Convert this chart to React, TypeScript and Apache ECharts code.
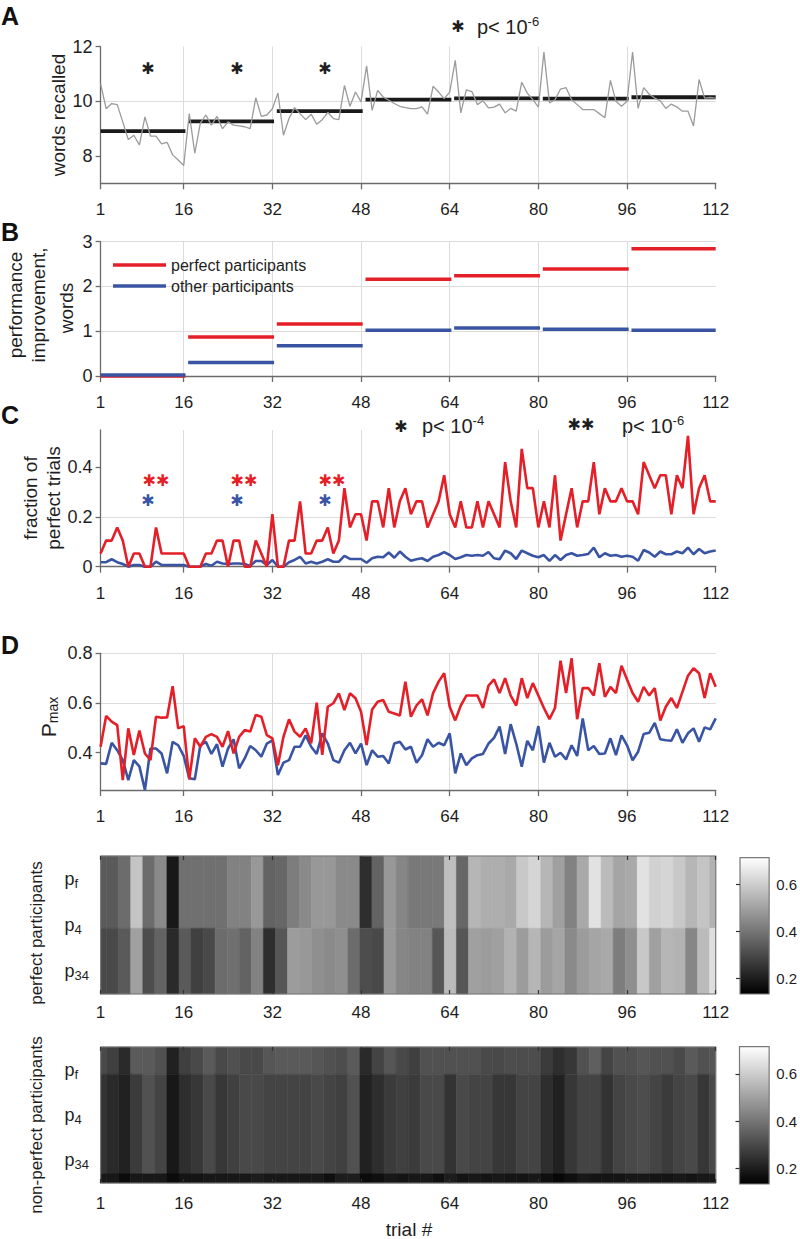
import React, { useEffect, useRef } from 'react';
import * as echarts from 'echarts';

const FONT = '"Liberation Sans", Arial, Helvetica, sans-serif';
const STAR_FONT = '"DejaVu Sans", "Liberation Sans", sans-serif';
const RED = '#e41f27';
const BLUE = '#3a54a4';
const GRAY_LINE = '#9b9b9b';
const GRID_COLOR = '#dcdcdc';
const AXIS_COLOR = '#6b6b6b';
const TEXT_COLOR = '#1e1e1e';

// ---- axes / structure ----
const TRIAL_TICKS = [1, 16, 32, 48, 64, 80, 96, 112];
const BLOCK_STARTS = [1, 17, 33, 49, 65, 81, 97];
const BLOCK_ENDS = [16, 32, 48, 64, 80, 96, 112];
const A_TICKS = [8, 10, 12];
const B_TICKS = [0, 1, 2, 3];
const C_TICKS = [0, 0.2, 0.4];
const D_TICKS = [0.4, 0.6, 0.8];
const CB_TICKS = [0.2, 0.4, 0.6];
const CB_MIN = 0.135;
const CB_MAX = 0.715;
const HM_ROW_LABELS = ['f', '4', '34'];
const HM_COLS = 52;
const HM1_BANDS = [[0.5, 2.07], [2.07, 3.5]];
const HM2_BANDS = [[0.5, 1.1], [1.1, 3.3], [3.3, 3.5]];

// ---- A: words recalled per trial, block means ----
const wordsRecalled = [
  10.64, 9.73, 9.92, 9.88, 9.25, 8.6, 8.76, 8.4, 9.43, 8.73, 8.73, 8.44, 8.5, 8.04, 7.85, 7.65,
  9.55, 8.1, 9.2, 9.5, 9.13, 9.45, 9.0, 9.25, 9.13, 9.1, 9.07, 9.0, 10.13, 9.45, 9.5, 9.73,
  10.3, 8.76, 9.37, 9.77, 9.55, 9.33, 9.53, 9.16, 9.33, 9.6, 9.37, 9.33, 10.58, 9.82, 10.34, 9.98,
  11.3, 9.67, 10.4, 10.16, 10.04, 9.92, 9.82, 9.77, 9.73, 9.73, 9.8, 9.53, 10.55, 10.34, 10.1, 10.34,
  11.5, 9.58, 10.42, 10.36, 9.88, 10.02, 9.76, 9.79, 9.9, 9.58, 9.74, 9.64, 10.7, 10.3, 10.06, 9.79,
  11.8, 9.94, 10.06, 10.45, 10.5, 10.06, 9.88, 9.7, 9.7, 9.7, 9.55, 9.4, 10.77, 10.0, 9.82, 10.0,
  11.8, 9.74, 10.5, 10.26, 10.12, 10.02, 9.74, 9.9, 9.79, 9.64, 9.64, 9.1, 10.8, 10.12, 10.14, 10.12,
];
const wordsBlockMean = [8.91, 9.27, 9.64, 10.06, 10.11, 10.1, 10.15];

// ---- B: performance improvement per block ----
const improvePerfect = [0, 0.87, 1.16, 2.16, 2.24, 2.39, 2.84];
const improveOther = [0.02, 0.3, 0.675, 1.02, 1.075, 1.046, 1.02];

// ---- C: fraction of perfect trials ----
const fracPerfect = [
  0.053, 0.105, 0.105, 0.158, 0.105, 0, 0.053, 0.053, 0, 0, 0.158, 0.053, 0.053, 0.053, 0.053, 0.053,
  0, 0, 0, 0.053, 0.053, 0.105, 0.105, 0, 0.105, 0.105, 0, 0, 0.105, 0.053, 0, 0.211,
  0, 0, 0.105, 0.105, 0.263, 0.053, 0.053, 0.105, 0.105, 0.158, 0.053, 0.105, 0.316, 0.158, 0.211, 0.211,
  0.105, 0.263, 0.263, 0.158, 0.316, 0.158, 0.263, 0.316, 0.211, 0.263, 0.263, 0.158, 0.211, 0.263, 0.368, 0.211,
  0.158, 0.263, 0.158, 0.158, 0.263, 0.158, 0.263, 0.211, 0.158, 0.421, 0.263, 0.158, 0.474, 0.316, 0.316, 0.158,
  0.263, 0.158, 0.368, 0.105, 0.211, 0.316, 0.158, 0.263, 0.263, 0.421, 0.211, 0.316, 0.263, 0.263, 0.316, 0.263,
  0.263, 0.211, 0.421, 0.368, 0.316, 0.368, 0.368, 0.211, 0.368, 0.316, 0.526, 0.211, 0.316, 0.368, 0.263, 0.263,
];
const fracOther = [
  0.018, 0.018, 0.03, 0.018, 0.011, 0, 0.007, 0.007, 0, 0, 0.02, 0.007, 0.007, 0.007, 0.007, 0.007,
  0, 0, 0, 0.011, 0.004, 0.02, 0.013, 0.011, 0.013, 0.013, 0.011, 0.003, 0.023, 0.023, 0.007, 0.027,
  0, 0, 0.018, 0.027, 0.04, 0.013, 0.02, 0.013, 0.02, 0.03, 0.02, 0.02, 0.044, 0.031, 0.031, 0.031,
  0.016, 0.034, 0.04, 0.038, 0.057, 0.036, 0.061, 0.04, 0.024, 0.03, 0.034, 0.023, 0.04, 0.047, 0.059, 0.047,
  0.031, 0.038, 0.047, 0.044, 0.047, 0.044, 0.059, 0.034, 0.03, 0.065, 0.054, 0.031, 0.065, 0.054, 0.044, 0.038,
  0.047, 0.023, 0.047, 0.027, 0.047, 0.054, 0.044, 0.047, 0.051, 0.077, 0.038, 0.054, 0.044, 0.047, 0.04, 0.044,
  0.04, 0.024, 0.067, 0.057, 0.04, 0.061, 0.05, 0.05, 0.061, 0.054, 0.077, 0.05, 0.071, 0.054, 0.061, 0.065,
];

// ---- D: Pmax ----
const pmaxPerfect = [
  0.424, 0.548, 0.525, 0.511, 0.29, 0.498, 0.391, 0.489, 0.397, 0.37, 0.545, 0.541, 0.542, 0.668, 0.498, 0.507,
  0.293, 0.458, 0.424, 0.464, 0.475, 0.464, 0.424, 0.487, 0.397, 0.464, 0.491, 0.485, 0.552, 0.545, 0.471, 0.458,
  0.35, 0.464, 0.534, 0.485, 0.464, 0.498, 0.438, 0.601, 0.391, 0.585, 0.599, 0.639, 0.572, 0.639, 0.619, 0.565,
  0.431, 0.574, 0.605, 0.612, 0.565, 0.558, 0.55, 0.686, 0.545, 0.59, 0.615, 0.55, 0.64, 0.686, 0.72, 0.585,
  0.53, 0.59, 0.63, 0.63, 0.63, 0.58, 0.67, 0.695, 0.64, 0.7, 0.63, 0.59, 0.7, 0.62, 0.68, 0.63,
  0.58, 0.535, 0.58, 0.77, 0.64, 0.78, 0.535, 0.66, 0.66, 0.63, 0.76, 0.625, 0.665, 0.64, 0.75, 0.695,
  0.64, 0.605, 0.665, 0.63, 0.66, 0.53, 0.585, 0.62, 0.58, 0.645, 0.71, 0.74, 0.72, 0.62, 0.72, 0.665,
];
const pmaxOther = [
  0.357, 0.355, 0.44, 0.41, 0.37, 0.29, 0.37, 0.345, 0.25, 0.417, 0.417, 0.397, 0.317, 0.444, 0.43, 0.387,
  0.297, 0.293, 0.43, 0.444, 0.395, 0.434, 0.344, 0.417, 0.454, 0.337, 0.377, 0.427, 0.41, 0.384, 0.437, 0.45,
  0.31, 0.36, 0.37, 0.424, 0.424, 0.47, 0.424, 0.395, 0.478, 0.437, 0.37, 0.36, 0.41, 0.44, 0.397, 0.437,
  0.35, 0.41, 0.384, 0.387, 0.357, 0.437, 0.444, 0.413, 0.424, 0.36, 0.39, 0.454, 0.424, 0.44, 0.43, 0.478,
  0.317, 0.397, 0.35, 0.377, 0.39, 0.395, 0.437, 0.46, 0.505, 0.395, 0.515, 0.437, 0.344, 0.448, 0.41, 0.507,
  0.36, 0.44, 0.384, 0.4, 0.373, 0.43, 0.387, 0.538, 0.41, 0.427, 0.395, 0.397, 0.458, 0.39, 0.47, 0.43,
  0.37, 0.404, 0.475, 0.48, 0.52, 0.454, 0.45, 0.448, 0.494, 0.44, 0.478, 0.498, 0.444, 0.502, 0.494, 0.538,
];

// ---- heatmaps (52 columns over trials 1..112) ----
const hmPerfectTop = [
  0.34, 0.34, 0.38, 0.58, 0.38, 0.45, 0.19, 0.39, 0.39, 0.39, 0.39, 0.43, 0.43, 0.48, 0.36, 0.37, 0.42, 0.45, 0.48, 0.48, 0.45, 0.45, 0.24, 0.36, 0.48,
  0.44, 0.41, 0.41, 0.41, 0.57, 0.37, 0.55, 0.53, 0.53, 0.52, 0.59, 0.62, 0.55, 0.5, 0.43, 0.52, 0.65, 0.56, 0.51, 0.52, 0.65, 0.61, 0.62, 0.59, 0.55, 0.58, 0.54,
];
const hmPerfectBottom = [
  0.3, 0.3, 0.34, 0.5, 0.31, 0.36, 0.23, 0.34, 0.28, 0.3, 0.38, 0.39, 0.36, 0.43, 0.24, 0.33, 0.49, 0.48, 0.46, 0.45, 0.46, 0.38, 0.31, 0.3, 0.48,
  0.44, 0.43, 0.43, 0.33, 0.56, 0.33, 0.5, 0.49, 0.5, 0.54, 0.49, 0.55, 0.49, 0.51, 0.45, 0.49, 0.51, 0.52, 0.42, 0.46, 0.59, 0.5, 0.55, 0.54, 0.44, 0.56, 0.64,
];
const hmOtherTop = [
  0.3, 0.28, 0.23, 0.34, 0.34, 0.32, 0.21, 0.28, 0.3, 0.34, 0.3, 0.32, 0.3, 0.3, 0.33, 0.34, 0.34, 0.34, 0.33, 0.32, 0.31, 0.34, 0.23, 0.29, 0.33,
  0.3, 0.28, 0.32, 0.32, 0.32, 0.32, 0.32, 0.3, 0.3, 0.31, 0.31, 0.31, 0.27, 0.24, 0.26, 0.32, 0.35, 0.29, 0.32, 0.32, 0.33, 0.32, 0.32, 0.3, 0.34, 0.32, 0.33,
];
const hmOtherMid = [
  0.25, 0.23, 0.21, 0.27, 0.32, 0.29, 0.19, 0.24, 0.26, 0.3, 0.26, 0.28, 0.3, 0.3, 0.29, 0.29, 0.29, 0.29, 0.3, 0.29, 0.28, 0.32, 0.21, 0.24, 0.27,
  0.28, 0.27, 0.3, 0.3, 0.25, 0.3, 0.29, 0.29, 0.26, 0.26, 0.29, 0.29, 0.24, 0.21, 0.26, 0.29, 0.29, 0.25, 0.29, 0.3, 0.31, 0.29, 0.27, 0.29, 0.3, 0.26, 0.3,
];
const hmOtherBottom = [
  0.19, 0.19, 0.16, 0.19, 0.19, 0.19, 0.16, 0.18, 0.18, 0.19, 0.19, 0.19, 0.19, 0.2, 0.19, 0.19, 0.19, 0.19, 0.19, 0.17, 0.2, 0.2, 0.16, 0.17, 0.19,
  0.18, 0.19, 0.19, 0.17, 0.2, 0.18, 0.19, 0.18, 0.19, 0.18, 0.18, 0.19, 0.17, 0.15, 0.17, 0.19, 0.18, 0.18, 0.18, 0.19, 0.19, 0.18, 0.18, 0.19, 0.18, 0.19, 0.19,
];

// ---------- helpers ----------
const trialSeries = (vals: number[]) => vals.map((v, i) => [i + 1, v]);
const blockSegs = (vals: number[]) =>
  vals.map((v, i) => [Math.max(1, BLOCK_STARTS[i] - 0.2), Math.min(112, BLOCK_ENDS[i] + 0.3), v]);
const colWidth = 111 / (HM_COLS - 1);
const hmCells = (bands: number[][], rows: number[][]) => {
  const out: number[][] = [];
  rows.forEach((row, b) => {
    row.forEach((v, k) => out.push([1 + k * colWidth, bands[b][0], bands[b][1], v]));
  });
  return out;
};

const axisLine = { show: true, lineStyle: { color: AXIS_COLOR, width: 1.3 } };
const labelBase = { fontSize: 17, color: TEXT_COLOR, fontFamily: FONT };

function xMain(gridIndex: number) {
  return {
    type: 'value', gridIndex, min: 1, max: 112,
    axisLine,
    axisTick: { show: true, customValues: TRIAL_TICKS, length: 6, lineStyle: { color: AXIS_COLOR, width: 1.3 } },
    axisLabel: { ...labelBase, customValues: TRIAL_TICKS, margin: 18 },
    splitLine: { show: true, showMinLine: false, showMaxLine: false, lineStyle: { color: GRID_COLOR, width: 1 } },
  };
}
function yMain(gridIndex: number, min: number, max: number, ticks: number[], showMax: boolean) {
  return {
    type: 'value', gridIndex, min, max,
    axisLine,
    axisTick: { show: true, customValues: ticks, length: 5, lineStyle: { color: AXIS_COLOR, width: 1.3 } },
    axisLabel: { ...labelBase, fontSize: 18, customValues: ticks, margin: 8 },
    splitLine: { show: true, showMinLine: false, showMaxLine: showMax, lineStyle: { color: GRID_COLOR, width: 1 } },
  };
}
function xHeat(gridIndex: number, top: boolean, margin: number) {
  return {
    type: 'value', gridIndex, min: 1, max: 112, position: top ? 'top' : 'bottom', z: 6,
    axisLine: { show: false },
    axisTick: { show: true, inside: true, customValues: TRIAL_TICKS, length: 4, lineStyle: { color: '#333', width: 1.2 } },
    axisLabel: top ? { show: false } : { ...labelBase, customValues: TRIAL_TICKS, margin },
    splitLine: { show: false },
  };
}
const rowRich = {
  p: { fontSize: 18, fontFamily: FONT, color: TEXT_COLOR, lineHeight: 22, verticalAlign: 'middle' },
  s: { fontSize: 13, fontFamily: FONT, color: TEXT_COLOR, lineHeight: 12, verticalAlign: 'bottom' },
};
function yHeat(gridIndex: number) {
  return {
    type: 'value', gridIndex, min: 0.5, max: 3.5, inverse: true,
    axisLine: { show: false }, axisTick: { show: false }, splitLine: { show: false },
    axisLabel: {
      customValues: [1, 2, 3], align: 'left', margin: 36,
      formatter: (v: number) => `{p|p}{s|${HM_ROW_LABELS[Math.round(v) - 1]}}`,
      rich: rowRich,
    },
  };
}
function yBar(gridIndex: number) {
  return {
    type: 'value', gridIndex, min: CB_MIN, max: CB_MAX, position: 'right', z: 6,
    axisLine: { show: false },
    axisTick: { show: true, inside: true, customValues: CB_TICKS, length: 4, lineStyle: { color: '#333', width: 1.2 } },
    axisLabel: { ...labelBase, fontSize: 15, customValues: CB_TICKS, margin: 7 },
    splitLine: { show: false },
  };
}

const segRender = (color: string, width: number) => (params: any, api: any) => {
  const a = api.coord([api.value(0), api.value(2)]);
  const b = api.coord([api.value(1), api.value(2)]);
  return { type: 'line', shape: { x1: a[0], y1: a[1], x2: b[0], y2: b[1] }, style: { stroke: color, lineWidth: width } };
};
const cellRender = (params: any, api: any) => {
  const x = api.value(0);
  const p0 = api.coord([x - colWidth / 2, api.value(1)]);
  const p1 = api.coord([x + colWidth / 2, api.value(2)]);
  const cs = params.coordSys;
  const shape = echarts.graphic.clipRectByRect(
    { x: p0[0], y: Math.min(p0[1], p1[1]), width: p1[0] - p0[0], height: Math.abs(p1[1] - p0[1]) },
    { x: cs.x, y: cs.y, width: cs.width, height: cs.height }
  );
  if (!shape) return null;
  const c = api.visual('color');
  return { type: 'rect', shape, style: { fill: c, stroke: c, lineWidth: 0.6 } };
};
const frameRender = (params: any) => {
  const cs = params.coordSys;
  return { type: 'rect', shape: { x: cs.x, y: cs.y, width: cs.width, height: cs.height }, style: { fill: 'none', stroke: '#7a7a7a', lineWidth: 1.2 } };
};
const barRender = (params: any, api: any) => {
  const p0 = api.coord([0, api.value(2)]);
  const p1 = api.coord([1, api.value(1)]);
  return {
    type: 'rect',
    shape: { x: p0[0], y: p0[1], width: p1[0] - p0[0], height: p1[1] - p0[1] },
    style: {
      fill: new echarts.graphic.LinearGradient(0, 0, 0, 1, [{ offset: 0, color: '#ffffff' }, { offset: 1, color: '#000000' }]),
      stroke: '#7a7a7a', lineWidth: 1.2,
    },
  };
};

// graphic helpers
const txt = (x: number, y: number, text: string, style: any = {}, extra: any = {}) => ({
  type: 'text', x, y, silent: true, ...extra,
  style: { text, fontFamily: FONT, fill: TEXT_COLOR, fontSize: 18, align: 'center', verticalAlign: 'middle', ...style },
});
const vtxt = (x: number, y: number, text: string, style: any = {}) => txt(x, y, text, style, { rotation: Math.PI / 2 });
const STAR = '\u2731';
const STAR_SIZE = 16;
const star = (x: number, y: number, n: number, color: string) =>
  txt(x, y, STAR.repeat(n), { fontSize: STAR_SIZE, fill: color, fontFamily: STAR_FONT, letterSpacing: 1 });
const pText = (x: number, y: number, exp: string) =>
  txt(x, y, `{a|p< 10}{s|${exp}}`, {
    align: 'left',
    rich: {
      a: { fontSize: 20, lineHeight: 24, fontFamily: FONT, fill: TEXT_COLOR, verticalAlign: 'middle' },
      s: { fontSize: 13, lineHeight: 10, fontFamily: FONT, fill: TEXT_COLOR, verticalAlign: 'top' },
    },
  });
const letter = (y: number, t: string) => txt(1, y, t, { fontSize: 25, fontWeight: 'bold', align: 'left', fill: '#111' });

function buildOption(): any {
  const L = 100.6, W = 615.1;
  return {
    animation: false,
    backgroundColor: '#ffffff',
    grid: [
      { left: L, width: W, top: 46.7, height: 136.6 },
      { left: L, width: W, top: 241.7, height: 134.3 },
      { left: L, width: W, top: 430, height: 136.7 },
      { left: L, width: W, top: 653.3, height: 136.7 },
      { left: L, width: W, top: 856, height: 138 },
      { left: 740, width: 31.7, top: 857.7, height: 136.3 },
      { left: L, width: W, top: 1047, height: 136 },
      { left: 739.5, width: 32.5, top: 1046.7, height: 137.3 },
    ],
    xAxis: [
      xMain(0), xMain(1), xMain(2), xMain(3),
      xHeat(4, false, 10), xHeat(4, true, 0),
      { type: 'value', gridIndex: 5, min: 0, max: 1, show: false },
      xHeat(6, false, 12), xHeat(6, true, 0),
      { type: 'value', gridIndex: 7, min: 0, max: 1, show: false },
    ],
    yAxis: [
      yMain(0, 7, 12, A_TICKS, false),
      yMain(1, 0, 3, B_TICKS, true),
      yMain(2, 0, 0.55, C_TICKS, false),
      yMain(3, 0.25, 0.8, D_TICKS, true),
      yHeat(4),
      yBar(5),
      yHeat(6),
      yBar(7),
    ],
    visualMap: {
      show: false, type: 'continuous', min: CB_MIN, max: CB_MAX, dimension: 3, seriesIndex: [8, 11],
      inRange: { color: ['#000000', '#ffffff'] },
    },
    legend: {
      data: ['perfect participants', 'other participants'],
      orient: 'vertical', left: 108, top: 252, icon: 'rect', itemWidth: 53, itemHeight: 3.5, itemGap: 5,
      selectedMode: false,
      textStyle: { fontSize: 16, color: TEXT_COLOR, fontFamily: FONT },
    },
    series: [
      { type: 'line', name: 'words', xAxisIndex: 0, yAxisIndex: 0, data: trialSeries(wordsRecalled), symbol: 'none', lineStyle: { color: GRAY_LINE, width: 1.3 }, itemStyle: { color: GRAY_LINE } },
      { type: 'custom', name: 'block mean', xAxisIndex: 0, yAxisIndex: 0, data: blockSegs(wordsBlockMean), encode: { x: [0, 1], y: 2 }, renderItem: segRender('#1a1a1a', 3.8), z: 3 },
      { type: 'custom', name: 'perfect participants', xAxisIndex: 1, yAxisIndex: 1, data: blockSegs(improvePerfect), encode: { x: [0, 1], y: 2 }, renderItem: segRender(RED, 3.5), itemStyle: { color: RED } },
      { type: 'custom', name: 'other participants', xAxisIndex: 1, yAxisIndex: 1, data: blockSegs(improveOther), encode: { x: [0, 1], y: 2 }, renderItem: segRender(BLUE, 3.5), itemStyle: { color: BLUE } },
      { type: 'line', name: 'frac other', xAxisIndex: 2, yAxisIndex: 2, data: trialSeries(fracOther), symbol: 'none', lineStyle: { color: BLUE, width: 2.6 }, itemStyle: { color: BLUE } },
      { type: 'line', name: 'frac perfect', xAxisIndex: 2, yAxisIndex: 2, data: trialSeries(fracPerfect), symbol: 'none', lineStyle: { color: RED, width: 2.6 }, itemStyle: { color: RED } },
      { type: 'line', name: 'pmax other', xAxisIndex: 3, yAxisIndex: 3, data: trialSeries(pmaxOther), symbol: 'none', lineStyle: { color: BLUE, width: 2.6 }, itemStyle: { color: BLUE } },
      { type: 'line', name: 'pmax perfect', xAxisIndex: 3, yAxisIndex: 3, data: trialSeries(pmaxPerfect), symbol: 'none', lineStyle: { color: RED, width: 2.6 }, itemStyle: { color: RED } },
      { type: 'custom', name: 'hm perfect', xAxisIndex: 4, yAxisIndex: 4, data: hmCells(HM1_BANDS, [hmPerfectTop, hmPerfectBottom]), encode: { x: 0, y: [1, 2] }, renderItem: cellRender },
      { type: 'custom', name: 'hm1 frame', xAxisIndex: 4, yAxisIndex: 4, data: [[56, 2]], encode: { x: 0, y: 1 }, renderItem: frameRender, z: 5, silent: true },
      { type: 'custom', name: 'cb1', xAxisIndex: 6, yAxisIndex: 5, data: [[0, CB_MIN, CB_MAX]], encode: { x: 0, y: [1, 2] }, renderItem: barRender, silent: true },
      { type: 'custom', name: 'hm other', xAxisIndex: 7, yAxisIndex: 6, data: hmCells(HM2_BANDS, [hmOtherTop, hmOtherMid, hmOtherBottom]), encode: { x: 0, y: [1, 2] }, renderItem: cellRender },
      { type: 'custom', name: 'hm2 frame', xAxisIndex: 7, yAxisIndex: 6, data: [[56, 2]], encode: { x: 0, y: 1 }, renderItem: frameRender, z: 5, silent: true },
      { type: 'custom', name: 'cb2', xAxisIndex: 9, yAxisIndex: 7, data: [[0, CB_MIN, CB_MAX]], encode: { x: 0, y: [1, 2] }, renderItem: barRender, silent: true },
    ],
    graphic: [
      letter(16, 'A'), letter(232, 'B'), letter(415, 'C'), letter(645, 'D'),
      vtxt(58, 115, 'words recalled', { fontSize: 19 }),
      vtxt(15, 305, 'performance', { fontSize: 19 }),
      vtxt(38, 305, 'improvement,', { fontSize: 19 }),
      vtxt(66, 308, 'words', { fontSize: 19 }),
      vtxt(30, 498, 'fraction of', { fontSize: 19 }),
      vtxt(53, 498, 'perfect trials', { fontSize: 19 }),
      vtxt(48, 717, '{p|P}{s|max}', {
        rich: {
          p: { fontSize: 21, lineHeight: 24, fontFamily: FONT, fill: TEXT_COLOR, verticalAlign: 'middle' },
          s: { fontSize: 14, lineHeight: 12, fontFamily: FONT, fill: TEXT_COLOR, verticalAlign: 'bottom' },
        },
      }),
      vtxt(36, 933, 'perfect participants', { fontSize: 17 }),
      vtxt(36, 1125, 'non-perfect participants', { fontSize: 17 }),
      txt(409, 1229, 'trial #', { fontSize: 19 }),
      // panel A stars
      star(148, 68, 1, TEXT_COLOR), star(237, 68, 1, TEXT_COLOR), star(325, 68, 1, TEXT_COLOR),
      star(458, 26, 1, TEXT_COLOR), pText(477, 27, '-6'),
      // panel C stars
      star(156, 480, 2, RED), star(244, 480, 2, RED), star(332, 480, 2, RED),
      star(148, 500, 1, BLUE), star(237, 500, 1, BLUE), star(325, 500, 1, BLUE),
      star(401, 426, 1, TEXT_COLOR), pText(422, 426, '-4'),
      star(581, 424, 2, TEXT_COLOR), pText(622, 426, '-6'),
    ],
  };
}

export default function App() {
  const ref = useRef<HTMLDivElement>(null);
  useEffect(() => {
    const chart = echarts.init(ref.current as HTMLDivElement, null, { renderer: 'svg' });
    chart.setOption(buildOption());
    return () => chart.dispose();
  }, []);
  return <div ref={ref} style={{ position: 'absolute', left: 0, top: 0, width: 800, height: 1239, background: '#fff' }} />;
}
